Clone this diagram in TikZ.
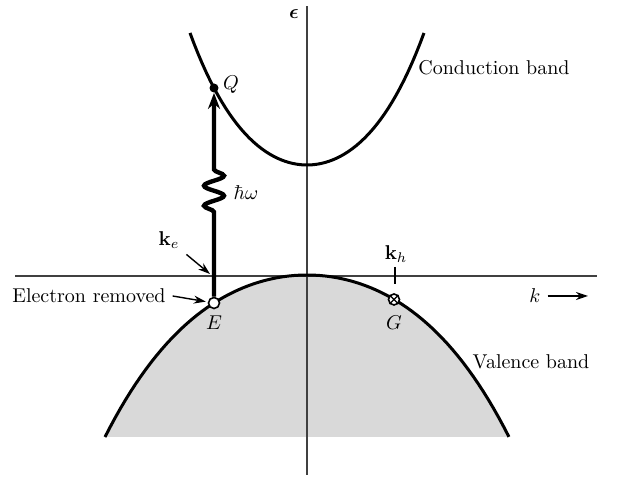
\documentclass[tikz,border=0pt]{standalone}
\usepackage{amsmath}
\usetikzlibrary{arrows.meta,decorations.pathmorphing}

\tikzset{
  axis/.style={line width=1pt, black!75},
  band/.style={line width=1.5pt},
  pointer/.style={line width=0.7pt, -{Stealth[length=6pt,width=4pt]}},
  photon/.style={line width=2.2pt, -{Stealth[length=8pt,width=6pt]}},
  dot/.style={circle, fill, inner sep=0pt, minimum size=4.5pt},
  hole/.style={circle, draw, fill=white, line width=0.8pt, inner sep=0pt, minimum size=5.5pt},
}

\begin{document}
\begin{tikzpicture}[x=0.5pt, y=-0.5pt]
  \useasboundingbox (0,0) rectangle (633,485);
  % valence band, filled
  \fill[black!15] plot[domain=-2.02:2.02, samples=80]
    ({307+100*\x},{275+30.4*(\x)*(\x)+2.28*(\x)*(\x)*(\x)*(\x)}) -- cycle;
  % axes
  \coordinate (vtop) at (307,6);
  \coordinate (vbot) at (307,475);
  \coordinate (hl) at (15,276);
  \coordinate (hr) at (597,276);
  \draw[axis] (vbot) -- (vtop);
  \draw[axis] (hl) -- (hr);
  \node (eps) at (294,14) {$\boldsymbol{\epsilon}$};
  % bands
  \draw[band] plot[domain=-1.17:1.17, samples=60]
    ({307+100*\x},{165-76.2*(\x)*(\x)-14.8*(\x)*(\x)*(\x)*(\x)});
  \draw[band] plot[domain=-2.02:2.02, samples=80]
    ({307+100*\x},{275+30.4*(\x)*(\x)+2.28*(\x)*(\x)*(\x)*(\x)});
  \node (cb) at (494,68) {Conduction band};
  \node (vb) at (531,362) {Valence band};
  % points
  \node[dot] (Q) at (214,88) {};
  \node (Qlab) at (231,85) {$Q$};
  \node[hole] (E) at (214,303) {};
  \node (Elab) at (214,323) {$E$};
  \node[hole] (G) at (394,299.5) {};
  \draw[line width=0.7pt] (G.north west) -- (G.south east) (G.north east) -- (G.south west);
  \node (Glab) at (394,323) {$G$};
  % photon
  \coordinate (w1) at (214,212);
  \coordinate (w2) at (214,166);
  \draw[photon] (E) -- (w1)
    decorate[decoration={snake, amplitude=5pt, segment length=10pt}] {-- (w2)} -- (Q);
  \node (hw) at (246,193) {$\hbar\omega$};
  % labels and pointers
  \node (ke) at (169,240) {$\mathbf{k}_e$};
  \coordinate (kep) at (210,274);
  \draw[pointer] (ke) -- (kep);
  \node (rem) at (89,296) {Electron removed};
  \draw[pointer, shorten >=1pt] (rem.east) -- (E);
  \coordinate (kht) at (395,267);
  \coordinate (khb) at (395,284);
  \draw[line width=0.7pt] (kht) -- (khb);
  \node (kh) at (396,254) {$\mathbf{k}_h$};
  \node (k) at (535,296) {$k$};
  \coordinate (kend) at (588,296);
  \draw[pointer] (k.east) -- (kend);
\end{tikzpicture}
\end{document}
